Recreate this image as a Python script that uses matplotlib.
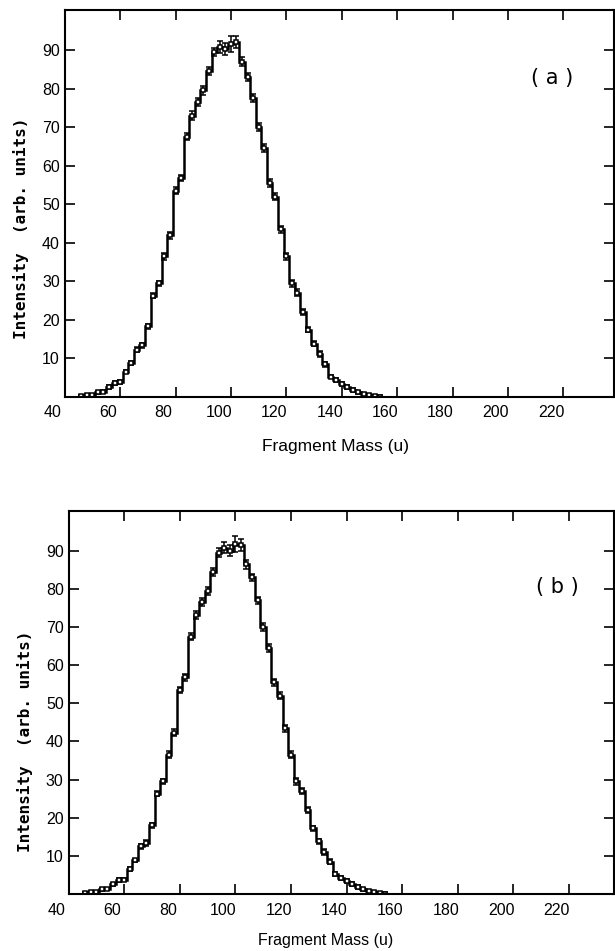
import matplotlib
matplotlib.use("Agg")
import matplotlib.pyplot as plt
import numpy as np
from matplotlib.transforms import ScaledTranslation

# ---------------- data ----------------
mass_centers = list(range(46, 156, 2))  # bin centers (u), bin width 2
bin_width = 2

intensity_a = [0.3, 0.5, 0.5, 1.2, 1.4, 2.5, 3.7, 3.8, 6.6, 8.8,
               12.3, 13.4, 18.3, 26.3, 29.5, 36.5, 42.0, 53.5, 56.8, 67.5,
               73.0, 76.5, 79.5, 84.5, 89.5, 90.8, 90.3, 91.6, 92.0, 87.0,
               83.0, 77.5, 70.0, 64.5, 55.5, 52.0, 43.5, 36.5, 29.5, 27.0,
               22.0, 17.5, 13.8, 11.2, 8.5, 5.3, 4.3, 3.4, 2.6, 1.8,
               1.2, 0.7, 0.4, 0.2, 0.1]
errors_a = [0.3, 0.3, 0.3, 0.3, 0.3, 0.5, 0.5, 0.5, 0.5, 0.5,
            0.7, 0.7, 0.7, 0.7, 0.7, 0.9, 0.9, 0.9, 0.9, 0.9,
            1.1, 1.1, 1.1, 1.1, 1.1, 1.5, 1.5, 2.0, 1.5, 1.2,
            1.0, 1.0, 1.0, 1.0, 1.0, 0.9, 0.9, 0.9, 0.9, 0.9,
            0.7, 0.7, 0.7, 0.7, 0.7, 0.5, 0.5, 0.5, 0.5, 0.5,
            0.3, 0.3, 0.3, 0.3, 0.3]

intensity_b = [0.3, 0.5, 0.5, 1.2, 1.4, 2.5, 3.7, 3.8, 6.6, 8.8,
               12.5, 13.4, 18.0, 26.3, 29.5, 36.5, 42.3, 53.5, 56.8, 67.5,
               73.2, 76.5, 79.5, 84.5, 89.5, 90.8, 90.0, 91.8, 91.5, 86.5,
               83.0, 77.0, 70.0, 64.5, 55.5, 52.0, 43.5, 36.5, 29.5, 27.0,
               22.0, 17.2, 13.8, 11.0, 8.5, 5.3, 4.3, 3.4, 2.6, 1.8,
               1.2, 0.7, 0.4, 0.2, 0.1]
errors_b = errors_a[:]

xtick_values = [40, 60, 80, 100, 120, 140, 160, 180, 200, 220]
ytick_values = [10, 20, 30, 40, 50, 60, 70, 80, 90]

# ---------------- figure ----------------
W, H = 615, 951
fig = plt.figure(figsize=(W / 100, H / 100), dpi=100)
fig.patch.set_facecolor("white")


def make_panel(rect_px, xmax, centers, vals, errs, letter, letter_xy,
               ylabel_xy, xlabel_xy, xlabel_size, xtick_pad):
    l, t, r, b = rect_px
    ax = fig.add_axes([l / W, 1 - b / H, (r - l) / W, (b - t) / H])
    c = np.array(centers, dtype=float)
    edges = np.concatenate([c - bin_width / 2, [c[-1] + bin_width / 2]])
    ax.stairs(vals, edges, color="black", lw=1.8, baseline=None)
    ax.errorbar(c, vals, yerr=errs, fmt="s", ms=3.4, mfc="white",
                mec="black", mew=1.1, ecolor="black", elinewidth=1.1,
                capsize=2.4, capthick=1.1)
    ax.plot([40, edges[0]], [0, 0], color="black", lw=1.8)
    ax.set_xlim(40, xmax)
    ax.set_ylim(0, 100.5)
    ax.set_xticks(xtick_values)
    ax.set_yticks(ytick_values)
    ax.tick_params(direction="in", length=7, width=1.2, top=True, right=True,
                   labelsize=11.5)
    ax.tick_params(axis="x", pad=xtick_pad)
    ax.tick_params(axis="y", pad=3.5)
    for s in ax.spines.values():
        s.set_linewidth(1.5)
    for lab in ax.get_xticklabels():
        lab.set_fontfamily("Liberation Sans")
        lab.set_transform(lab.get_transform() +
                          ScaledTranslation(-12 / 100, 0, fig.dpi_scale_trans))
    for lab in ax.get_yticklabels():
        lab.set_fontfamily("Liberation Sans")
    fig.text(letter_xy[0] / W, 1 - letter_xy[1] / H, letter, ha="center",
             va="center", fontsize=15, family="DejaVu Sans")
    fig.text(ylabel_xy[0] / W, 1 - ylabel_xy[1] / H, "Intensity  (arb. units)",
             rotation=90, ha="center", va="center", family="DejaVu Sans Mono",
             weight="bold", fontsize=11.5)
    fig.text(xlabel_xy[0] / W, 1 - xlabel_xy[1] / H, "Fragment Mass (u)",
             ha="center", va="center", family="Liberation Sans",
             fontsize=xlabel_size)
    return ax


make_panel((64.7, 9.5, 614, 397), 40 + (614 - 64.7) / 2.77, mass_centers,
           intensity_a, errors_a, "( a )", (552, 78), (21, 228.5),
           (335.5, 447), 12.5, 6.0)
make_panel((68.5, 510.7, 614, 894), 40 + (614 - 68.5) / 2.78, mass_centers,
           intensity_b, errors_b, "( b )", (557, 587), (25, 741),
           (326, 940), 11.5, 6.5)

fig.savefig("out.png", dpi=100)
